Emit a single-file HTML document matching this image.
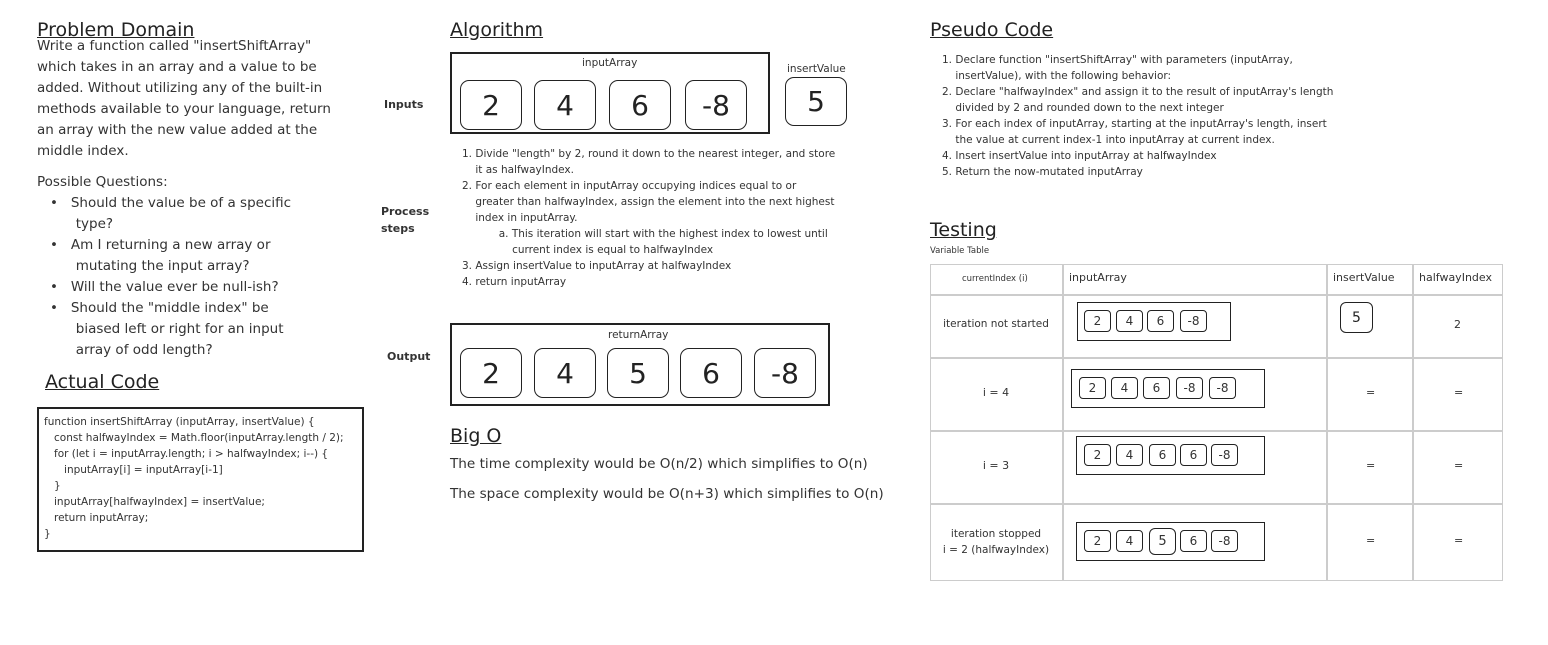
<!DOCTYPE html>
<html><head><meta charset="utf-8"><style>
body{margin:0;width:1548px;height:645px;background:#fff;font-family:"DejaVu Sans","Liberation Sans",sans-serif;color:#333;position:relative;overflow:hidden}
.a{position:absolute;white-space:nowrap}
.h{font-size:19px;text-decoration:underline;color:#222}
.box{position:absolute;border:2px solid #222;box-sizing:border-box}
.c{position:absolute;border:1.5px solid #222;border-radius:9px;box-sizing:border-box;display:flex;align-items:center;justify-content:center;color:#222}
.s{position:absolute;border:1.5px solid #222;border-radius:4px;box-sizing:border-box;display:flex;align-items:center;justify-content:center;font-size:12px;color:#333}
.t{font-size:13.5px;line-height:21px}
.sm{font-size:10.5px;line-height:16px}
.lb{font-size:11px;font-weight:bold;color:#333}
.hl{position:absolute;background:#ccc}
</style></head><body>
<div class="a h" style="left:37px;top:19px">Problem Domain</div>
<div class="a t" style="left:37px;top:36px">Write a function called "insertShiftArray"<br>which takes in an array and a value to be<br>added. Without utilizing any of the built-in<br>methods available to your language, return<br>an array with the new value added at the<br>middle index.</div>
<div class="a t" style="left:37px;top:172px">Possible Questions:</div>
<div class="a t" style="left:50px;top:193px">•&nbsp;&nbsp; Should the value be of a specific<br>&nbsp;&nbsp;&nbsp;&nbsp;&nbsp; type?<br>•&nbsp;&nbsp; Am I returning a new array or<br>&nbsp;&nbsp;&nbsp;&nbsp;&nbsp; mutating the input array?<br>•&nbsp;&nbsp; Will the value ever be null-ish?<br>•&nbsp;&nbsp; Should the "middle index" be<br>&nbsp;&nbsp;&nbsp;&nbsp;&nbsp; biased left or right for an input<br>&nbsp;&nbsp;&nbsp;&nbsp;&nbsp; array of odd length?</div>
<div class="a h" style="left:45px;top:371px">Actual Code</div>
<div class="box" style="left:37px;top:407px;width:327px;height:145px"></div>
<div class="a sm" style="left:44px;top:414px">function insertShiftArray (inputArray, insertValue) {<br>&nbsp;&nbsp;&nbsp;const halfwayIndex = Math.floor(inputArray.length / 2);<br>&nbsp;&nbsp;&nbsp;for (let i = inputArray.length; i &gt; halfwayIndex; i--) {<br>&nbsp;&nbsp;&nbsp;&nbsp;&nbsp;&nbsp;inputArray[i] = inputArray[i-1]<br>&nbsp;&nbsp;&nbsp;}<br>&nbsp;&nbsp;&nbsp;inputArray[halfwayIndex] = insertValue;<br>&nbsp;&nbsp;&nbsp;return inputArray;<br>}</div>

<div class="a h" style="left:450px;top:19px">Algorithm</div>
<div class="a lb" style="left:384px;top:98px">Inputs</div>
<div class="box" style="left:450px;top:52px;width:320px;height:82px"></div>
<div class="a sm" style="left:582px;top:55px">inputArray</div>
<div class="c" style="left:460px;top:80px;width:62px;height:50px;font-size:28px">2</div>
<div class="c" style="left:534px;top:80px;width:62px;height:50px;font-size:28px">4</div>
<div class="c" style="left:609px;top:80px;width:62px;height:50px;font-size:28px">6</div>
<div class="c" style="left:685px;top:80px;width:62px;height:50px;font-size:28px">-8</div>
<div class="a sm" style="left:787px;top:61px">insertValue</div>
<div class="c" style="left:785px;top:77px;width:62px;height:49px;font-size:28px">5</div>
<div class="a lb" style="left:381px;top:203px;line-height:17px">Process<br>steps</div>
<div class="a sm" style="left:462px;top:146px">1. Divide "length" by 2, round it down to the nearest integer, and store<br>&nbsp;&nbsp;&nbsp;&nbsp;it as halfwayIndex.<br>2. For each element in inputArray occupying indices equal to or<br>&nbsp;&nbsp;&nbsp;&nbsp;greater than halfwayIndex, assign the element into the next highest<br>&nbsp;&nbsp;&nbsp;&nbsp;index in inputArray.<br>&nbsp;&nbsp;&nbsp;&nbsp;&nbsp;&nbsp;&nbsp;&nbsp;&nbsp;&nbsp;&nbsp;a. This iteration will start with the highest index to lowest until<br>&nbsp;&nbsp;&nbsp;&nbsp;&nbsp;&nbsp;&nbsp;&nbsp;&nbsp;&nbsp;&nbsp;&nbsp;&nbsp;&nbsp;&nbsp;current index is equal to halfwayIndex<br>3. Assign insertValue to inputArray at halfwayIndex<br>4. return inputArray</div>
<div class="a lb" style="left:387px;top:350px">Output</div>
<div class="box" style="left:450px;top:323px;width:380px;height:83px"></div>
<div class="a sm" style="left:608px;top:327px">returnArray</div>
<div class="c" style="left:460px;top:348px;width:62px;height:50px;font-size:28px">2</div>
<div class="c" style="left:534px;top:348px;width:62px;height:50px;font-size:28px">4</div>
<div class="c" style="left:607px;top:348px;width:62px;height:50px;font-size:28px">5</div>
<div class="c" style="left:680px;top:348px;width:62px;height:50px;font-size:28px">6</div>
<div class="c" style="left:754px;top:348px;width:62px;height:50px;font-size:28px">-8</div>
<div class="a h" style="left:450px;top:425px">Big O</div>
<div class="a" style="left:450px;top:456px;font-size:13.6px">The time complexity would be O(n/2) which simplifies to O(n)</div>
<div class="a" style="left:450px;top:486px;font-size:13.6px">The space complexity would be O(n+3) which simplifies to O(n)</div>

<div class="a h" style="left:930px;top:19px">Pseudo Code</div>
<div class="a sm" style="left:942px;top:52px">1. Declare function "insertShiftArray" with parameters (inputArray,<br>&nbsp;&nbsp;&nbsp;&nbsp;insertValue), with the following behavior:<br>2. Declare "halfwayIndex" and assign it to the result of inputArray's length<br>&nbsp;&nbsp;&nbsp;&nbsp;divided by 2 and rounded down to the next integer<br>3. For each index of inputArray, starting at the inputArray's length, insert<br>&nbsp;&nbsp;&nbsp;&nbsp;the value at current index-1 into inputArray at current index.<br>4. Insert insertValue into inputArray at halfwayIndex<br>5. Return the now-mutated inputArray</div>
<div class="a h" style="left:930px;top:219px">Testing</div>
<div class="a" style="left:930px;top:246px;font-size:8.5px">Variable Table</div>
<div class="box" style="left:930px;top:264px;width:573px;height:317px;border:1.5px solid #ccc"></div>
<div class="hl" style="left:1062px;top:264px;width:1.5px;height:317px"></div>
<div class="hl" style="left:1326px;top:264px;width:1.5px;height:317px"></div>
<div class="hl" style="left:1412px;top:264px;width:1.5px;height:317px"></div>
<div class="hl" style="left:930px;top:294px;width:573px;height:1.5px"></div>
<div class="hl" style="left:930px;top:357px;width:573px;height:1.5px"></div>
<div class="hl" style="left:930px;top:430px;width:573px;height:1.5px"></div>
<div class="hl" style="left:930px;top:503px;width:573px;height:1.5px"></div>
<div class="a" style="left:962px;top:274px;font-size:8.5px">currentIndex (i)</div>
<div class="a" style="left:1069px;top:271px;font-size:11px">inputArray</div>
<div class="a" style="left:1333px;top:271px;font-size:11px">insertValue</div>
<div class="a" style="left:1419px;top:271px;font-size:11px">halfwayIndex</div>
<div class="a" style="left:930px;top:318px;width:132px;text-align:center;font-size:10.5px">iteration not started</div>
<div class="a" style="left:930px;top:386px;width:132px;text-align:center;font-size:11px">i = 4</div>
<div class="a" style="left:930px;top:459px;width:132px;text-align:center;font-size:11px">i = 3</div>
<div class="a" style="left:930px;top:526px;width:132px;font-size:10.5px;text-align:center;line-height:16px">iteration stopped<br>i = 2 (halfwayIndex)</div>
<div class="a" style="left:1454px;top:318px;font-size:11px">2</div>
<div class="a" style="left:1366px;top:386px;font-size:11px">=</div><div class="a" style="left:1454px;top:386px;font-size:11px">=</div>
<div class="a" style="left:1366px;top:459px;font-size:11px">=</div><div class="a" style="left:1454px;top:459px;font-size:11px">=</div>
<div class="a" style="left:1366px;top:534px;font-size:11px">=</div><div class="a" style="left:1454px;top:534px;font-size:11px">=</div>
<div class="c" style="left:1340px;top:302px;width:33px;height:31px;font-size:14px;border-radius:6px">5</div>

<div class="box" style="left:1077px;top:302px;width:154px;height:39px;border-width:1.5px"></div>
<div class="s" style="left:1084px;top:310px;width:27px;height:22px">2</div>
<div class="s" style="left:1116px;top:310px;width:27px;height:22px">4</div>
<div class="s" style="left:1147px;top:310px;width:27px;height:22px">6</div>
<div class="s" style="left:1180px;top:310px;width:27px;height:22px">-8</div>

<div class="box" style="left:1071px;top:369px;width:194px;height:39px;border-width:1.5px"></div>
<div class="s" style="left:1079px;top:377px;width:27px;height:22px">2</div>
<div class="s" style="left:1111px;top:377px;width:27px;height:22px">4</div>
<div class="s" style="left:1143px;top:377px;width:27px;height:22px">6</div>
<div class="s" style="left:1176px;top:377px;width:27px;height:22px">-8</div>
<div class="s" style="left:1209px;top:377px;width:27px;height:22px">-8</div>

<div class="box" style="left:1076px;top:436px;width:189px;height:39px;border-width:1.5px"></div>
<div class="s" style="left:1084px;top:444px;width:27px;height:22px">2</div>
<div class="s" style="left:1116px;top:444px;width:27px;height:22px">4</div>
<div class="s" style="left:1149px;top:444px;width:27px;height:22px">6</div>
<div class="s" style="left:1180px;top:444px;width:27px;height:22px">6</div>
<div class="s" style="left:1211px;top:444px;width:27px;height:22px">-8</div>

<div class="box" style="left:1076px;top:522px;width:189px;height:39px;border-width:1.5px"></div>
<div class="s" style="left:1084px;top:530px;width:27px;height:22px">2</div>
<div class="s" style="left:1116px;top:530px;width:27px;height:22px">4</div>
<div class="s" style="left:1149px;top:528px;width:27px;height:27px;border-radius:6px;font-size:13px">5</div>
<div class="s" style="left:1180px;top:530px;width:27px;height:22px">6</div>
<div class="s" style="left:1211px;top:530px;width:27px;height:22px">-8</div>
</body></html>
